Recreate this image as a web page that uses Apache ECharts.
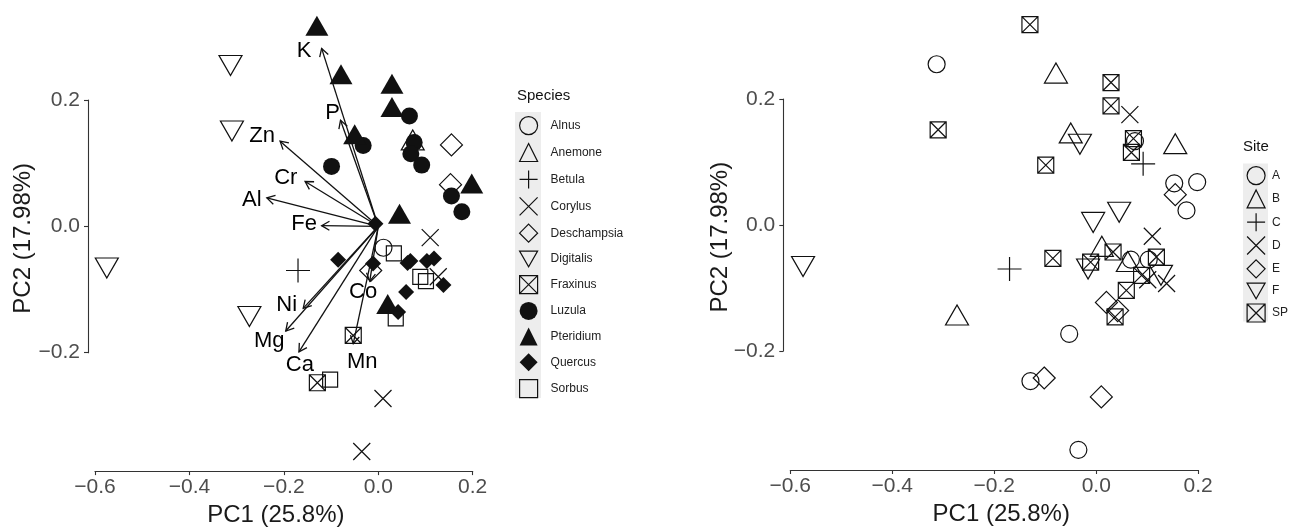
<!DOCTYPE html>
<html><head><meta charset="utf-8">
<script src="https://cdn.jsdelivr.net/npm/echarts@6/dist/echarts.min.js"></script>
<style>html,body{margin:0;padding:0;background:#fff}#c{width:1294px;height:532px}</style>
</head><body><div id="c"></div>
<script>
// ---- data ----
const pc1 = [-0.130,-0.079,0.029,0.029,-0.050,0.198,0.045,0.020,
  0.066,-0.032,0.076,0.069,0.092,-0.099,0.155,0.177,
  0.073,0.155,0.153,-0.016,-0.313,-0.310,-0.575,-0.273,
  -0.170,0.110,0.127,0.010,-0.035,0.011,
  -0.085,-0.011,0.068,0.062,0.103,0.118,0.138,0.059,0.042,-0.006,
  0.033,0.089,0.101,0.037,-0.102,-0.053,-0.129];
const pc2 = [0.318,0.241,0.226,0.189,0.146,0.068,0.020,-0.123,
  0.175,0.128,0.133,0.115,0.097,0.095,0.048,0.023,
  0.137,0.129,0.066,-0.070,0.255,0.151,-0.066,-0.143,
  -0.070,-0.018,-0.080,-0.273,-0.357,-0.034,
  -0.053,-0.059,-0.055,-0.058,-0.055,-0.051,-0.093,-0.104,-0.136,0.004,
  -0.043,-0.080,-0.087,-0.146,-0.243,-0.173,-0.248];
const species = ['Pteridium','Pteridium','Pteridium','Pteridium','Pteridium','Pteridium','Pteridium','Pteridium',
  'Luzula','Luzula','Luzula','Luzula','Luzula','Luzula','Luzula','Luzula',
  'Anemone','Deschampsia','Deschampsia','Deschampsia','Digitalis','Digitalis','Digitalis','Digitalis',
  'Betula','Corylus','Corylus','Corylus','Corylus','Alnus',
  'Quercus','Quercus','Quercus','Quercus','Quercus','Quercus','Quercus','Quercus','Quercus','Quercus',
  'Sorbus','Sorbus','Sorbus','Sorbus','Sorbus','Fraxinus','Fraxinus'];
const site = ['SP','B','SP','SP','B','A','F','E',
  'D','F','A','SP','C','SP','E','A',
  'SP','B','A','F','A','SP','F','B',
  'C','D','F','E','A','B',
  'SP','SP','A','B','A','SP','D','SP','E','F',
  'SP','SP','D','SP','E','A','A'];
const speciesNames = ['Alnus','Anemone','Betula','Corylus','Deschampsia','Digitalis','Fraxinus','Luzula','Pteridium','Quercus','Sorbus'];
const siteNames = ['A','B','C','D','E','F','SP'];
const loadNames = ['K','P','Zn','Cr','Al','Fe','Ni','Mg','Ca','Mn','Co'];
const loadX = [-0.120,-0.080,-0.208,-0.155,-0.236,-0.120,-0.159,-0.196,-0.168,-0.053,-0.018];
const loadY = [0.282,0.168,0.135,0.071,0.045,0.001,-0.130,-0.166,-0.199,-0.186,-0.087];
const labX = [-0.157,-0.097,-0.246,-0.196,-0.268,-0.157,-0.194,-0.231,-0.166,-0.034,-0.032];
const labY = [0.278,0.180,0.143,0.076,0.042,0.003,-0.125,-0.181,-0.219,-0.215,-0.104];
const xTickStep = 0.2, xMin = -0.6, xMax = 0.2;
const yTickStep = 0.2, yMin = -0.2, yMax = 0.2;

// ---- styling ----
const FONT = 'Liberation Sans, Arial, Helvetica, sans-serif';
const INK = '#111';
const SYM = {
  openCircle: {symbol:'circle', size:17, fill:'transparent'},
  openTri: {symbol:'triangle', size:[23,20], fill:'transparent'},
  plus: {symbol:'path://M0,-1L0,1M-1,0L1,0', size:24, fill:'transparent'},
  cross: {symbol:'path://M-1,-1L1,1M-1,1L1,-1', size:17, fill:'transparent'},
  openDiamond: {symbol:'diamond', size:22, fill:'transparent'},
  invTri: {symbol:'path://M-1,-0.866L1,-0.866L0,0.866Z', size:[23,20], fill:'transparent'},
  boxX: {symbol:'path://M-1,-1L1,-1L1,1L-1,1ZM-1,-1L1,1M1,-1L-1,1', size:16, fill:'transparent'},
  dot: {symbol:'circle', size:17, fill:INK},
  solidTri: {symbol:'triangle', size:[23,20], fill:INK},
  solidDiamond: {symbol:'diamond', size:16, fill:INK},
  square: {symbol:'rect', size:15, fill:'transparent'}
};
const speciesSym = {Alnus:'openCircle',Anemone:'openTri',Betula:'plus',Corylus:'cross',Deschampsia:'openDiamond',
  Digitalis:'invTri',Fraxinus:'boxX',Luzula:'dot',Pteridium:'solidTri',Quercus:'solidDiamond',Sorbus:'square'};
const siteSym = {A:'openCircle',B:'openTri',C:'plus',D:'cross',E:'openDiamond',F:'invTri',SP:'boxX'};

function fmt(v){ if (Math.abs(v) < 1e-9) v = 0; return v.toFixed(1).replace('-', '\u2212'); }

function scatterSeries(name, symKey, groupArr, xi, yi){
  const s = SYM[symKey];
  const data = [];
  for (let i = 0; i < pc1.length; i++) if (groupArr[i] === name) data.push([pc1[i], pc2[i]]);
  const filled = s.fill !== 'transparent';
  return {
    type:'scatter', name, xAxisIndex:xi, yAxisIndex:yi, data, clip:false,
    symbol:s.symbol, symbolSize:s.size, silent:true,
    itemStyle: filled ? {color:s.fill, borderWidth:0, opacity:1} : {color:'transparent', borderColor:INK, borderWidth:1.2, opacity:1},
    emphasis:{disabled:true}
  };
}

const series = [];
speciesNames.forEach(n => series.push(scatterSeries(n, speciesSym[n], species, 0, 0)));
series.push({
  type:'custom', xAxisIndex:0, yAxisIndex:0, silent:true, clip:false,
  data: loadNames.map((n,i) => [loadX[i], loadY[i], labX[i], labY[i]]),
  renderItem: function(params, api){
    const i = params.dataIndex;
    const o = api.coord([0,0]);
    const t = api.coord([api.value(0), api.value(1)]);
    const lp = api.coord([api.value(2), api.value(3)]);
    const ang = Math.atan2(t[1]-o[1], t[0]-o[0]);
    const L = 9, a = Math.PI/6;
    const h1 = [t[0]-L*Math.cos(ang-a), t[1]-L*Math.sin(ang-a)];
    const h2 = [t[0]-L*Math.cos(ang+a), t[1]-L*Math.sin(ang+a)];
    return {type:'group', children:[
      {type:'line', shape:{x1:o[0],y1:o[1],x2:t[0],y2:t[1]}, style:{stroke:INK, lineWidth:1.3}},
      {type:'polyline', shape:{points:[h1,t,h2]}, style:{stroke:INK, lineWidth:1.3, fill:null}},
      {type:'text', x:lp[0], y:lp[1], style:{text:loadNames[i], font:'22px '+FONT, fill:'#000', align:'center', verticalAlign:'middle'}}
    ]};
  }
});
siteNames.forEach(n => series.push(scatterSeries(n, siteSym[n], site, 2, 2)));

const tickStyle = {color:'#4d4d4d', fontSize:21, fontFamily:FONT};
const lineStyle = {color:'#333', width:1.1};
function xAxisMain(gi, padding){
  return {gridIndex:gi, type:'value', min:xMin, max:xMax, interval:xTickStep,
    axisLine:{show:true, onZero:false, lineStyle}, axisTick:{show:true, length:4, lineStyle},
    axisLabel:{margin:6, formatter:fmt, ...tickStyle}, splitLine:{show:false},
    name:'PC1 (25.8%)', nameLocation:'middle', nameGap:27,
    nameTextStyle:{fontSize:24, color:'#1a1a1a', fontFamily:FONT, padding}};
}
function yAxisName(gi, mn, mx, gap){
  return {gridIndex:gi, type:'value', min:mn, max:mx,
    axisLine:{show:false}, axisTick:{show:false}, axisLabel:{show:false}, splitLine:{show:false},
    name:'PC2 (17.98%)', nameLocation:'middle', nameGap:gap, nameRotate:90,
    nameTextStyle:{fontSize:24, color:'#1a1a1a', fontFamily:FONT}};
}
function yAxisFrame(gi){
  return {gridIndex:gi, type:'value', min:yMin, max:yMax, interval:yTickStep,
    axisLine:{show:true, onZero:false, lineStyle}, axisTick:{show:true, length:4, lineStyle},
    axisLabel:{margin:8, formatter:fmt, ...tickStyle}, splitLine:{show:false}};
}
function hiddenX(gi){ return {gridIndex:gi, type:'value', min:0, max:1, show:false}; }

function legend(names, left, top, gap, padLeft){
  return {data:names, orient:'vertical', left, top, itemWidth:18, itemHeight:18, itemGap:gap,
    padding:0, selectedMode:false,
    itemStyle:{borderWidth:1.2},
    textStyle:{fontSize:12, color:'#222', fontFamily:FONT, padding:[0,0,0,padLeft]}};
}

const option = {
  animation:false,
  backgroundColor:'#fff',
  grid:[
    {left:95, top:5.5, width:377.7, height:466.5},
    {left:88, top:100, width:10, height:252.7},
    {left:790.3, top:4.4, width:407.9, height:465.6},
    {left:783.3, top:99, width:10, height:252}
  ],
  xAxis:[xAxisMain(0,[0,16,0,0]), hiddenX(1), xAxisMain(2,[0,0,0,14]), hiddenX(3)],
  yAxis:[yAxisName(0,-0.388,0.35,60), yAxisFrame(1), yAxisName(2,-0.389,0.35,58), yAxisFrame(3)],
  legend:[legend(speciesNames, 519, 116, 7.7, 8), legend(siteNames, 1246.5, 166, 4.1, 2)],
  graphic:[
    {type:'rect', z:-10, shape:{x:515, y:112, width:26, height:286}, style:{fill:'#ededed'}},
    {type:'rect', z:-10, shape:{x:1243, y:163.6, width:25, height:158}, style:{fill:'#ededed'}},
    {type:'text', x:517, y:96, style:{text:'Species', font:'15px '+FONT, fill:'#111', verticalAlign:'middle'}},
    {type:'text', x:1243, y:147, style:{text:'Site', font:'15px '+FONT, fill:'#111', verticalAlign:'middle'}}
  ],
  series
};
const chart = echarts.init(document.getElementById('c'), null, {renderer:'canvas'});
chart.setOption(option);
</script></body></html>
